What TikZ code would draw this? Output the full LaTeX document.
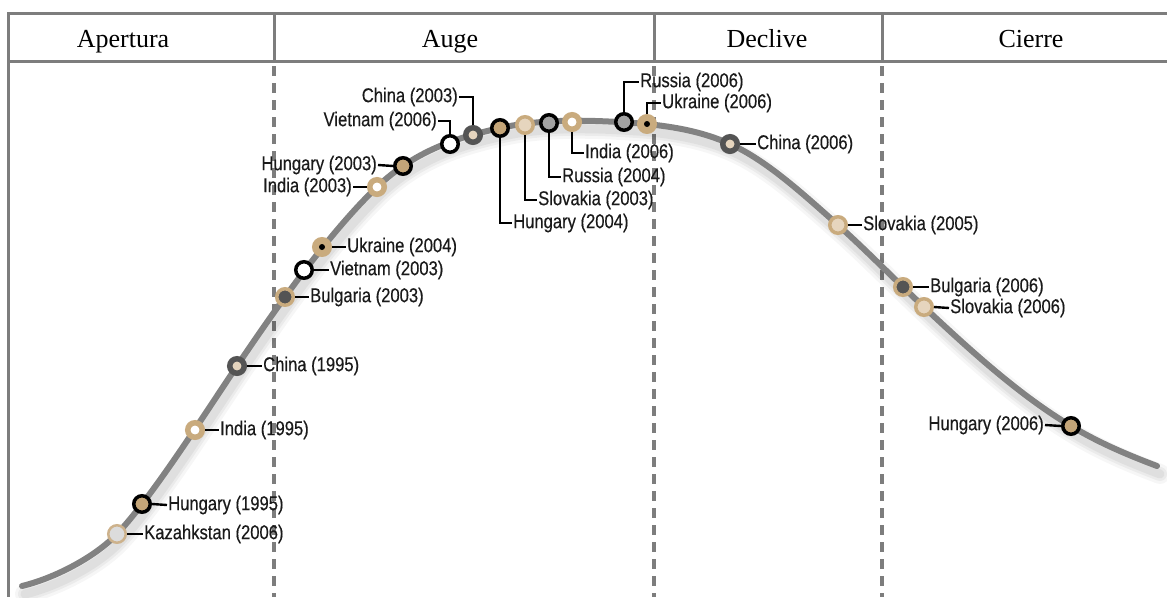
\documentclass[tikz,border=0pt]{standalone}
\usepackage{fontspec}
\setmainfont{Liberation Serif}
\newfontfamily\labfont[FakeStretch=0.83, FakeBold=0.4]{Liberation Sans}

\definecolor{rulegray}{HTML}{7D7D7D}
\definecolor{curvegray}{HTML}{828282}
\definecolor{tanring}{HTML}{C9AB7E}
\definecolor{tanfill}{HTML}{C4A578}
\definecolor{tanlight}{HTML}{CDB28C}
\definecolor{beige}{HTML}{E6D5BE}
\definecolor{dkgray}{HTML}{545454}
\definecolor{midgray}{HTML}{A2A2A2}
\definecolor{ltgray}{HTML}{DCDCDC}
\definecolor{labtext}{HTML}{1A1A1A}

\tikzset{
  frame/.style={rulegray, line width=3pt},
  phase/.style={rulegray, line width=3.2pt, dash pattern=on 10pt off 7pt},
  head/.style={font=\fontsize{26}{30}\selectfont, anchor=base, inner sep=0pt},
  lab/.style={font=\labfont\fontsize{20}{22}\selectfont, text=labtext, inner xsep=1pt, inner ysep=0pt},
  lead/.style={black, line width=2.4pt},
  mk/.style={circle, inner sep=0pt, minimum size=16.5pt, line width=3.5pt},
  mkthick/.style={circle, inner sep=0pt, minimum size=14.5pt, line width=5.5pt},
  hun/.style={mk, draw=black, fill=tanfill},
  ind/.style={mkthick, draw=tanring, fill=white},
  chn/.style={mkthick, draw=dkgray, fill=beige},
  bul/.style={mk, draw=tanring, fill=dkgray},
  vie/.style={mk, draw=black, fill=white},
  ukr/.style={mk, draw=tanring, fill=tanring,
    path picture={\fill[black] (path picture bounding box.center) circle (3pt);}},
  slo/.style={mk, draw=tanring, fill=beige},
  rus/.style={mk, draw=black, fill=midgray},
  kaz/.style={circle, inner sep=0pt, minimum size=17.5pt, line width=2.5pt, draw=tanlight, fill=ltgray},
}

% the life-cycle curve as tangent-continuous Bezier segments
\newcommand\drawtrend[1]{%
  \draw[#1] (22,586) .. controls (55,578) and (95,557) .. (117,534)
    .. controls (152,497) and (202,418) .. (237,366)
    .. controls (282,299) and (332,230) .. (377,187)
    .. controls (417,149) and (460,137) .. (500,128)
    .. controls (545,118) and (597,120) .. (647,124)
    .. controls (675,127) and (702,131.5) .. (730,144)
    .. controls (766,160) and (802,193) .. (838,225)
    .. controls (867,251) and (895,280) .. (924,307)
    .. controls (974,354) and (1021,396) .. (1071,426)
    .. controls (1100,443.4) and (1128,455) .. (1157,466);}

\begin{document}
\begin{tikzpicture}[x=1pt, y=-1pt]
\useasboundingbox (0,0) rectangle (1167,597);

% header table and frame
\draw[frame] (1167,13) -- (8,13) -- (8,597);
\draw[frame] (8,61) -- (1167,61);
\draw[frame] (274,13) -- (274,61);
\draw[frame] (654,13) -- (654,61);
\draw[frame] (882,13) -- (882,61);

\node[head] (hA) at (123,47) {Apertura};
\node[head] (hB) at (450,47) {Auge};
\node[head] (hC) at (767,47) {Declive};
\node[head] (hD) at (1031,47) {Cierre};

% phase boundaries
\draw[phase] (274,66) -- (274,597);
\draw[phase] (654,66) -- (654,597);
\draw[phase] (882,66) -- (882,597);

% curve with soft shadow
\begin{scope}[shift={(3,8)}]
  \drawtrend{black, opacity=0.035, line width=20pt, line cap=round}
  \drawtrend{black, opacity=0.045, line width=14pt, line cap=round}
  \drawtrend{black, opacity=0.05, line width=9pt, line cap=round}
\end{scope}
\drawtrend{curvegray, line width=6pt, line cap=round}

% labels
\node[lab, anchor=west] (lKaz) at (143,534) {Kazahkstan (2006)};
\node[lab, anchor=west] (lHun95) at (167,505) {Hungary (1995)};
\node[lab, anchor=west] (lInd95) at (219,430) {India (1995)};
\node[lab, anchor=west] (lChn95) at (262,366) {China (1995)};
\node[lab, anchor=west] (lBul03) at (309,297) {Bulgaria (2003)};
\node[lab, anchor=west] (lVie03) at (329,270) {Vietnam (2003)};
\node[lab, anchor=west] (lUkr04) at (346,247) {Ukraine (2004)};
\node[lab, anchor=east] (lInd03) at (353,187) {India (2003)};
\node[lab, anchor=east] (lHun03) at (378,165) {Hungary (2003)};
\node[lab, anchor=east] (lVie06) at (438,121) {Vietnam (2006)};
\node[lab, anchor=east] (lChn03) at (459,97) {China (2003)};
\node[lab, anchor=west] (lHun04) at (512,223) {Hungary (2004)};
\node[lab, anchor=west] (lSlo03) at (537,200) {Slovakia (2003)};
\node[lab, anchor=west] (lRus04) at (561,177) {Russia (2004)};
\node[lab, anchor=west] (lInd06) at (584,153) {India (2006)};
\node[lab, anchor=west] (lRus06) at (639,82) {Russia (2006)};
\node[lab, anchor=west] (lUkr06) at (661,103) {Ukraine (2006)};
\node[lab, anchor=west] (lChn06) at (756,144) {China (2006)};
\node[lab, anchor=west] (lSlo05) at (862,225) {Slovakia (2005)};
\node[lab, anchor=west] (lBul06) at (929,287) {Bulgaria (2006)};
\node[lab, anchor=west] (lSlo06) at (949,308) {Slovakia (2006)};
\node[lab, anchor=east] (lHun06) at (1045,425) {Hungary (2006)};

% markers
\node[kaz] (mKaz) at (117,534) {};
\node[hun] (mHun95) at (142,504) {};
\node[ind] (mInd95) at (195,430) {};
\node[chn] (mChn95) at (237,366) {};
\node[bul] (mBul03) at (285,297) {};
\node[vie] (mVie03) at (304,270) {};
\node[ukr] (mUkr04) at (322,247) {};
\node[ind] (mInd03) at (377,187) {};
\node[hun] (mHun03) at (403,166) {};
\node[vie] (mVie06) at (450,144) {};
\node[chn] (mChn03) at (473,135) {};
\node[hun] (mHun04) at (500,128) {};
\node[slo] (mSlo03) at (525,125) {};
\node[rus] (mRus04) at (549,123) {};
\node[ind] (mInd06) at (572,122) {};
\node[rus] (mRus06) at (624,122) {};
\node[ukr] (mUkr06) at (647,124) {};
\node[chn] (mChn06) at (730,144) {};
\node[slo] (mSlo05) at (838,225) {};
\node[bul] (mBul06) at (903,287) {};
\node[slo] (mSlo06) at (924,307) {};
\node[hun] (mHun06) at (1071,426) {};

% leaders
\draw[lead] (mKaz.east) -- (lKaz.west);
\draw[lead] (mHun95.east) -- (lHun95.west);
\draw[lead] (mInd95.east) -- (lInd95.west);
\draw[lead] (mChn95.east) -- (lChn95.west);
\draw[lead] (mBul03.east) -- (lBul03.west);
\draw[lead] (mVie03.east) -- (lVie03.west);
\draw[lead] (mUkr04.east) -- (lUkr04.west);
\draw[lead] (lInd03.east) -- (mInd03.west);
\draw[lead] (lHun03.east) -- (mHun03.west);
\draw[lead] (lVie06.east) -| (mVie06.north);
\draw[lead] (lChn03.east) -| (mChn03.north);
\draw[lead] (mHun04.south) |- (lHun04.west);
\draw[lead] (mSlo03.south) |- (lSlo03.west);
\draw[lead] (mRus04.south) |- (lRus04.west);
\draw[lead] (mInd06.south) |- (lInd06.west);
\draw[lead] (mRus06.north) |- (lRus06.west);
\draw[lead] (mUkr06.north) |- (lUkr06.west);
\draw[lead] (mChn06.east) -- (lChn06.west);
\draw[lead] (mSlo05.east) -- (lSlo05.west);
\draw[lead] (mBul06.east) -- (lBul06.west);
\draw[lead] (mSlo06.east) -- (lSlo06.west);
\draw[lead] (lHun06.east) -- (mHun06.west);
\end{tikzpicture}
\end{document}
